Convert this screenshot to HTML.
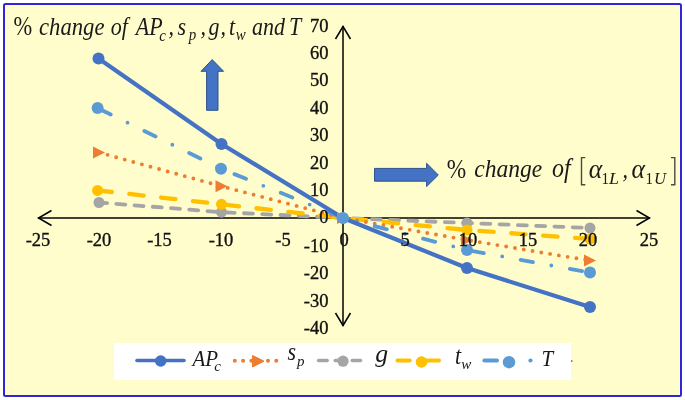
<!DOCTYPE html>
<html><head><meta charset="utf-8">
<style>
html,body{margin:0;padding:0;background:#fff;}
body{width:685px;height:400px;overflow:hidden;position:relative;}
svg{position:absolute;left:0;top:0;filter:blur(0.35px);}
text{font-family:"Liberation Serif",serif;}
.n{font-size:18.5px;fill:#111;stroke:#111;stroke-width:0.35px;}
.t{font-size:22px;fill:#1a1a1a;font-style:italic;}
.s{font-size:15px;fill:#1a1a1a;font-style:italic;}
.r{font-style:normal;}
</style></head><body>
<svg width="685" height="400" viewBox="0 0 685 400">
<rect x="4" y="4" width="677" height="392" rx="1.5" fill="#FFFDCC" stroke="#3126D6" stroke-width="2"/>

<!-- legend box -->
<rect x="114" y="343" width="457" height="37" fill="#FFFFFF"/>

<!-- axes -->
<g stroke="#000" stroke-width="1.5" fill="none">
<line x1="38" y1="218" x2="650" y2="218"/>
<polyline points="51.5,210.5 38.5,218 51.5,225.5"/>
<polyline points="636.5,210.5 649.5,218 636.5,225.5"/>
<line x1="343" y1="26" x2="343" y2="326"/>
<polyline points="335.5,39 343,26.5 350.5,39"/>
<polyline points="335.5,313 343,325.5 350.5,313"/>
</g>

<!-- series -->
<g fill="none" stroke-linecap="round" stroke-linejoin="round">
<polyline stroke="#A5A5A5" stroke-width="3.8" stroke-dasharray="9 9.28" stroke-dashoffset="0.9" points="99,202.5 221.5,212.2 343,218 467,223 590,228"/>
<polyline stroke="#FFC000" stroke-width="4.3" stroke-dasharray="14.4 17.6" stroke-dashoffset="0.1" points="97.6,190.4 221.5,204.3 343,218 467,230 590,239"/>
<polyline stroke="#ED7D31" stroke-width="3.9" stroke-dasharray="0 8.9" points="99,152.5 221.5,186.3 343,218 467,240 590,260.6"/>
<polyline stroke="#5B9BD5" stroke-width="3.8" stroke-dasharray="12.5 18.7 0 18.75" stroke-dashoffset="-2.15" points="97.6,108 221,168.7 343,218 467,250 590,272.6"/>
<polyline stroke="#4472C4" stroke-width="4.2" points="98.5,58.5 221.5,144 343,218 467,268 590,307"/>
</g>
<!-- markers -->
<g fill="#A5A5A5">
<circle cx="99" cy="202.5" r="5.5"/><circle cx="221.5" cy="212.2" r="5.5"/><circle cx="343" cy="218" r="5.5"/><circle cx="467" cy="223" r="5.5"/><circle cx="590" cy="228" r="5.5"/>
</g>
<g fill="#FFC000">
<circle cx="97.6" cy="190.4" r="5.5"/><circle cx="221.5" cy="204.3" r="5.5"/><circle cx="343" cy="218" r="5.5"/><circle cx="467" cy="230" r="5.5"/><circle cx="590" cy="239" r="5.5"/>
</g>
<g fill="#ED7D31">
<path d="M93,146.5 L105,152.5 L93,158.5Z"/><path d="M215.5,180.3 L227.5,186.3 L215.5,192.3Z"/><path d="M337,212 L349,218 L337,224Z"/><path d="M461,234 L473,240 L461,246Z"/><path d="M584,254.6 L596,260.6 L584,266.6Z"/>
</g>
<g fill="#5B9BD5">
<circle cx="97.6" cy="108" r="6"/><circle cx="221" cy="168.7" r="6"/><circle cx="343" cy="218" r="6"/><circle cx="467" cy="250" r="6"/><circle cx="590" cy="272.6" r="6"/>
</g>
<g fill="#4472C4">
<circle cx="98.5" cy="58.5" r="6"/><circle cx="221.5" cy="144" r="6"/><circle cx="467" cy="268" r="6"/><circle cx="590" cy="307" r="6"/>
</g>

<!-- y labels -->
<g class="n" text-anchor="end">
<text x="328.5" y="31.6">70</text>
<text x="328.5" y="59.0">60</text>
<text x="328.5" y="86.4">50</text>
<text x="328.5" y="113.8">40</text>
<text x="328.5" y="141.2">30</text>
<text x="328.5" y="168.6">20</text>
<text x="328.5" y="196.0">10</text>
<text x="328.5" y="223.4">0</text>
<text x="328.5" y="251.8">-10</text>
<text x="328.5" y="279.2">-20</text>
<text x="328.5" y="306.6">-30</text>
<text x="328.5" y="334.0">-40</text>
</g>

<!-- x labels -->
<g class="n" text-anchor="middle">
<text x="38" y="246">-25</text>
<text x="99" y="246">-20</text>
<text x="159.5" y="246">-15</text>
<text x="221" y="246">-10</text>
<text x="283" y="246">-5</text>
<text x="344" y="246">0</text>
<text x="405" y="246">5</text>
<text x="468" y="246">10</text>
<text x="528" y="246">15</text>
<text x="588" y="246">20</text>
<text x="649" y="246">25</text>
</g>

<!-- block arrows -->
<path d="M206.6,110.3 L206.6,71.3 L201,71.3 L212.2,59.6 L223.6,71.3 L218,71.3 L218,110.3Z" fill="#4472C4" stroke="#2F528F" stroke-width="1"/>
<path d="M374.5,168.4 L426.6,168.4 L426.6,163.2 L438.3,175 L426.6,186.6 L426.6,181.2 L374.5,181.2Z" fill="#4472C4" stroke="#2F528F" stroke-width="1"/>

<!-- title -->
<g class="t" transform="translate(0,35) scale(1,1.12) translate(0,-35)">
<text class="r" transform="translate(13.6,34.6) scale(1.02,1.09)">%</text>
<text x="39" y="35" textLength="65.5" lengthAdjust="spacingAndGlyphs">change</text>
<text x="110.8" y="35">of</text>
<text x="135.8" y="35">AP</text>
<text class="s" x="159.3" y="40.2" font-size="16">c</text>
<text x="168.5" y="35">,</text>
<text x="177.5" y="35">s</text>
<text class="s" x="188.8" y="39.8" font-size="18">p</text>
<text x="200.6" y="35">,</text>
<text x="208.4" y="35">g</text>
<text x="220.5" y="35">,</text>
<text x="229" y="35">t</text>
<text class="s" x="235.8" y="39.5" font-size="16.5">w</text>
<text x="251.9" y="35">and</text>
<text x="289" y="35">T</text>
</g>

<!-- x axis caption -->
<g class="t" transform="translate(0,177.7) scale(1,1.12) translate(0,-177.7)">
<text class="r" transform="translate(446.8,177.9) scale(1.06,1.09)">%</text>
<text x="474.2" y="177.5" textLength="68" lengthAdjust="spacingAndGlyphs">change</text>
<text x="552" y="177.5" font-size="24">of</text>
<text x="588.8" y="178.3" font-size="24" textLength="13.5" lengthAdjust="spacingAndGlyphs">α</text>
<text class="s r" x="601.5" y="183" font-size="16">1</text>
<text class="s" x="609" y="183" font-size="16" textLength="10" lengthAdjust="spacingAndGlyphs">L</text>
<text x="622.5" y="178" font-size="22">,</text>
<text x="631.4" y="178.3" font-size="24" textLength="13.5" lengthAdjust="spacingAndGlyphs">α</text>
<text class="s r" x="645.5" y="183" font-size="16">1</text>
<text class="s" x="654" y="183" font-size="16" textLength="12" lengthAdjust="spacingAndGlyphs">U</text>
</g>
<g stroke="#4a4a40" stroke-width="1.4" fill="none">
<polyline points="585.3,157.6 581.5,157.6 581.5,184.8 585.3,184.8"/>
<polyline points="671,157.6 674.8,157.6 674.8,184.8 671,184.8"/>
</g>

<!-- legend -->
<g stroke-linecap="round" fill="none">
<line x1="137" y1="360.5" x2="184" y2="360.5" stroke="#4472C4" stroke-width="3.6"/>
<line x1="234.8" y1="360.7" x2="277" y2="360.7" stroke="#ED7D31" stroke-width="4" stroke-dasharray="0 8.3"/>
<g stroke="#A5A5A5" stroke-width="3.6">
<line x1="318.6" y1="360.5" x2="327.2" y2="360.5"/>
<line x1="335.3" y1="360.5" x2="340" y2="360.5"/>
<line x1="352.3" y1="360.5" x2="360.5" y2="360.5"/>
</g>
<g stroke="#FFC000" stroke-width="4">
<line x1="397.5" y1="360.5" x2="409.7" y2="360.5"/>
<line x1="421" y1="360.5" x2="439" y2="360.5"/>
</g>
<g stroke="#5B9BD5" stroke-width="3.8">
<line x1="484.3" y1="360.5" x2="497.1" y2="360.5"/>
<line x1="530.5" y1="360.5" x2="530.5" y2="360.5" stroke-width="4.2"/>
</g>
</g>
<circle cx="160.7" cy="361" r="5.8" fill="#4472C4"/>
<path d="M252.5,355.5 L264,361.2 L252.5,367Z" fill="#ED7D31" stroke="#ED7D31" stroke-width="1" stroke-linejoin="round"/>
<circle cx="343" cy="361.2" r="5.6" fill="#A5A5A5"/>
<circle cx="421.5" cy="362" r="5.8" fill="#FFC000"/>
<circle cx="509" cy="362.2" r="6.2" fill="#5B9BD5"/>
<g class="t">
<text transform="translate(192.4,365.6) scale(1,1.1)" font-size="21">AP</text>
<text class="s" x="214.3" y="371" font-size="16">c</text>
<text transform="translate(287.4,360) scale(1,1.1)">s</text>
<text class="s" x="297" y="366" font-size="18">p</text>
<text transform="translate(375.3,361.5) scale(1.12,1.12)" font-size="23">g</text>
<text transform="translate(455,363.5) scale(1,1.1)">t</text>
<text class="s" x="461.2" y="369" font-size="17.5">w</text>
<text transform="translate(541.6,366.2) scale(1,1.1)" font-size="21">T</text>
</g>
<circle cx="571.8" cy="361" r="0.8" fill="#203080"/>
</svg>
</body></html>
